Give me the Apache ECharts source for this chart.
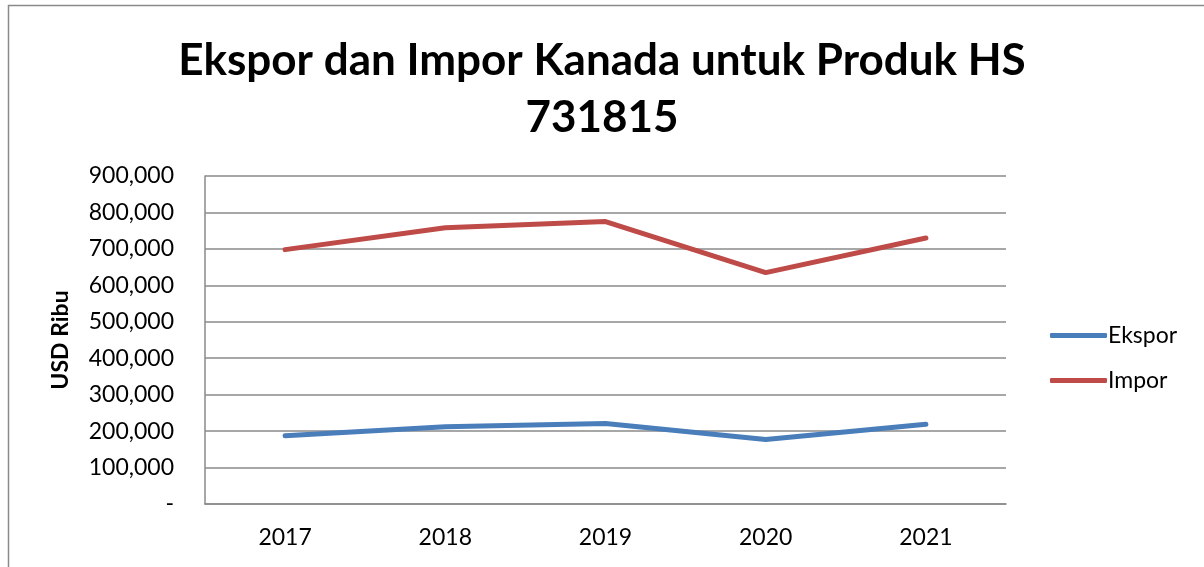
<!DOCTYPE html>
<html>
<head>
<meta charset="utf-8">
<style>
  html, body { margin: 0; padding: 0; background: #fff; }
  #main { width: 1204px; height: 567px; }
</style>
<script src="https://cdn.jsdelivr.net/npm/echarts@6/dist/echarts.min.js"></script>
</head>
<body>
<div id="main"></div>
<script>
var years = ['2017', '2018', '2019', '2020', '2021'];
var ekspor = [187000, 212000, 221000, 177000, 219000];
var impor = [698000, 758000, 775000, 635000, 730000];
var yTicks = [0, 100000, 200000, 300000, 400000, 500000, 600000, 700000, 800000, 900000];

var font = 'Lato, "Open Sans", sans-serif';

var myChart = echarts.init(document.getElementById('main'));
myChart.setOption({
    animation: false,
    textStyle: { fontFamily: font },
    title: {
        text: 'Ekspor dan Impor Kanada untuk Produk HS\n731815',
        left: 'center',
        top: 27,
        textStyle: { fontSize: 44, fontWeight: 'bold', color: '#000', lineHeight: 57, fontFamily: font }
    },
    graphic: [{
        type: 'rect',
        shape: { x: 8.5, y: 5.5, width: 1300, height: 700 },
        style: { fill: 'none', stroke: '#8a8a8a', lineWidth: 1.5 },
        silent: true
    }],
    legend: {
        orient: 'vertical',
        left: 1045,
        top: 319,
        itemWidth: 57,
        itemHeight: 5,
        itemGap: 22,
        icon: 'roundRect',
        textStyle: { fontSize: 23, color: '#000', padding: [0, 0, 0, -4] },
        data: ['Ekspor', 'Impor']
    },
    grid: { left: 205, right: 198, top: 176, bottom: 63, containLabel: false },
    xAxis: {
        type: 'category',
        data: years,
        boundaryGap: true,
        axisLine: { lineStyle: { color: '#8a8a8a', width: 1.5 } },
        axisTick: { show: false },
        axisLabel: { fontSize: 23, color: '#000', margin: 22 }
    },
    yAxis: {
        type: 'value',
        min: yTicks[0],
        max: yTicks[yTicks.length - 1],
        interval: yTicks[1] - yTicks[0],
        axisLine: { show: true, lineStyle: { color: '#8a8a8a', width: 1.5 } },
        axisTick: { show: false },
        splitLine: { lineStyle: { color: '#8a8a8a', width: 1.5 } },
        axisLabel: {
            fontSize: 23, color: '#000', margin: 31,
            formatter: function (v) { return v === 0 ? '-' : v.toLocaleString('en-US'); }
        },
        name: 'USD Ribu',
        nameLocation: 'middle',
        nameGap: 133,
        nameRotate: 90,
        nameTextStyle: { fontSize: 23, fontWeight: 'bold', color: '#000' }
    },
    series: [
        {
            name: 'Ekspor',
            type: 'line',
            data: ekspor,
            symbol: 'none',
            itemStyle: { color: '#4a7ebb' },
            lineStyle: { color: '#4a7ebb', width: 5, cap: 'round', join: 'round' }
        },
        {
            name: 'Impor',
            type: 'line',
            data: impor,
            symbol: 'none',
            itemStyle: { color: '#be4b48' },
            lineStyle: { color: '#be4b48', width: 5, cap: 'round', join: 'round' }
        }
    ]
});
</script>
</body>
</html>
